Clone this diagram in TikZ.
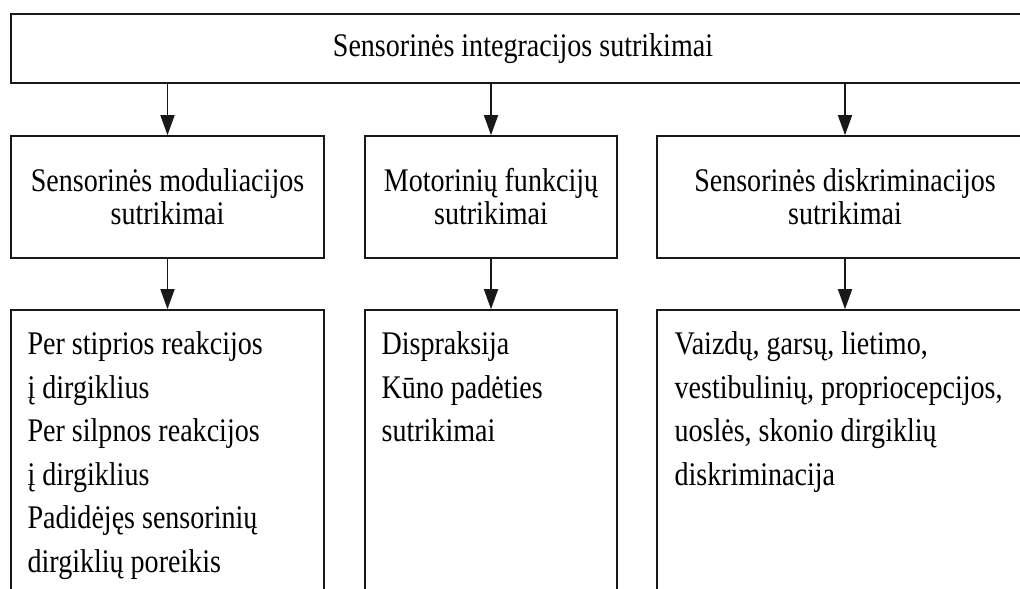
\documentclass[tikz,border=0pt]{standalone}
\usepackage{fontspec}
\setmainfont{Liberation Serif}[FakeStretch=0.85]
\usetikzlibrary{arrows.meta, positioning}
\definecolor{mainBlack}{gray}{0.1}

\begin{document}
\begin{tikzpicture}[x=1pt, y=1pt, >={Triangle[width=7pt, length=10pt]},
    box/.style={draw=mainBlack, line width=0.8pt, inner sep=0pt, align=center, font=\fontsize{16.5}{16.5}\selectfont},
    item/.style={inner sep=0pt, align=left, font=\fontsize{16.5}{21.75}\selectfont}]
    \useasboundingbox (0,0) rectangle (510,-294);
    \clip (0,0) rectangle (510,-294);

    % Top level
    \node[box, minimum width=512pt, minimum height=34.5pt] (T) at (261.5,-24.25) {Sensorinės integracijos sutrikimai};

    % Middle level
    \node[box, minimum width=156.5pt, minimum height=61pt] (S1) at (83.75,-98.5) {Sensorinės moduliacijos\\ sutrikimai};
    \node[box, minimum width=126pt, minimum height=61pt] (S2) at (245.5,-98.5) {Motorinių funkcijų\\ sutrikimai};
    \node[box, minimum width=188pt, minimum height=61pt] (S3) at (422.5,-98.5) {Sensorinės diskriminacijos\\ sutrikimai};

    % Bottom level
    \node[box, minimum width=156.5pt, minimum height=145pt] (D1) at (83.75,-227.5) {};
    \node[box, minimum width=126pt, minimum height=145pt] (D2) at (245.5,-227.5) {};
    \node[box, minimum width=188pt, minimum height=145pt] (D3) at (422.5,-227.5) {};

    \node[item, below right=11pt and 8.5pt of D1.north west] (d1) {Per stiprios reakcijos\\ į dirgiklius\\ Per silpnos reakcijos\\ į dirgiklius\\ Padidėjęs sensorinių\\ dirgiklių poreikis};
    \node[item, below right=11pt and 8.5pt of D2.north west] (d2) {Dispraksija\\ Kūno padėties\\ sutrikimai};
    \node[item, below right=11pt and 9pt of D3.north west] (d3) {Vaizdų, garsų, lietimo,\\ vestibulinių, propriocepcijos,\\ uoslės, skonio dirgiklių\\ diskriminacija};

    % Arrows
    \foreach \n in {1,2,3} {
        \draw[->, mainBlack, line width=0.8pt] (T.south -| S\n) -- (S\n.north);
        \draw[->, mainBlack, line width=0.8pt] (S\n.south) -- (D\n.north);
    }
\end{tikzpicture}
\end{document}
